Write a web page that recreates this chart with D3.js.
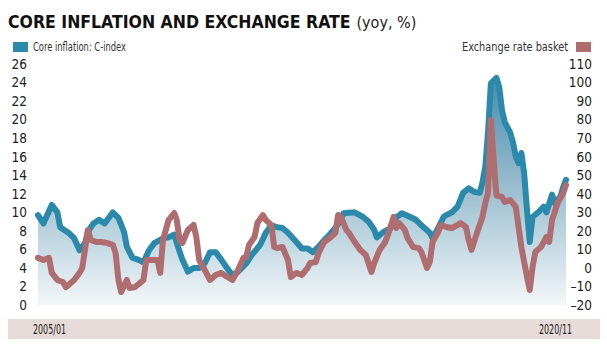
<!DOCTYPE html>
<html>
<head>
<meta charset="utf-8">
<script src="https://cdn.jsdelivr.net/npm/d3@7"></script>
<style>
  body { margin: 0; background: #fff; }
  svg { display: block; }
  text { font-family: "DejaVu Sans Condensed", "Liberation Sans Narrow", sans-serif; }
</style>
</head>
<body>
<script>
// DATA (months counted from 2005/01)
const coreMonths = [0,2,5,7,8,11,13,15,17,18,20,22,24,27,29,31,32,34,36,38,40,42,45,47,49,50,52,54,56,58,60,62,64,66,68,70,72,75,77,80,82,84,86,88,90,93,95,97,99,101,103,105,107,109,110,114,117,119,121,122,124,127,128,131,134,136,138,141,142,144,146,147,149,151,153,155,157,159,160,161,162,163,165,166,167,168,170,171,172,173,174,175,176,177,178,180,182,183,185,186,188,189,190]
const coreValues = [9.7,8.8,10.8,10.0,8.4,7.8,7.2,5.9,6.7,7.9,8.8,9.2,8.8,10.0,9.4,7.9,6.3,5.1,4.9,4.6,5.9,6.7,7.2,7.3,7.6,6.7,4.9,3.6,4.0,4.0,4.5,5.7,5.7,4.9,4.0,3.2,3.6,4.5,5.4,6.5,7.8,8.6,8.4,8.3,7.8,6.8,6.1,6.1,5.7,6.3,7.0,7.6,8.3,9.2,9.9,10.0,9.5,9.0,8.1,7.3,7.8,8.3,9.2,9.9,9.5,9.2,8.6,7.8,7.2,8.3,9.5,9.7,10.0,10.6,12.1,12.6,12.2,12.1,13.2,14.9,18.6,23.9,24.5,23.5,21.0,19.7,18.6,17.5,16.0,15.3,16.4,14.2,10.2,6.8,9.5,10.0,10.6,10.0,11.9,11.0,11.7,12.7,13.5]

const fxMonths = [0,2,4,5,7,9,10,11,13,15,16,18,19,21,23,25,27,28,29,30,32,33,35,38,39,41,43,44,45,47,49,50,51,52,54,56,57,58,60,62,64,66,67,70,72,74,75,76,78,79,81,82,84,85,86,88,90,91,93,95,97,98,100,101,103,105,107,108,109,111,112,114,116,118,120,121,123,125,126,128,129,130,132,133,135,137,138,140,141,142,144,145,147,149,151,152,154,155,156,158,160,161,162,163,164,165,167,168,170,172,173,174,176,177,178,179,181,183,184,185,187,189,190]
const fxValues = [5.4,4.3,5.4,-2.7,-6.5,-7.6,-10.3,-9.2,-6.5,-2.7,0,20.5,15.1,14.0,14.0,13.4,12.4,8.0,-6.5,-13.0,-6.5,-10.8,-10.3,-6.5,4.3,4.3,4.3,-2.7,15.1,25.8,29.6,25.8,15.1,13.4,20.5,23.2,16.7,4.3,-1.1,-6.5,-3.8,-2.7,-3.8,-6.5,-1.1,5.4,5.9,12.4,16.7,24.2,28.5,25.8,23.2,11.3,10.7,11.3,4.3,-4.9,-2.7,-3.8,0,2.7,3.2,8.0,14.0,16.1,18.8,28.5,27.5,20.5,18.8,14.0,9.7,7.0,-2.2,2.7,9.7,14.0,17.8,27.5,21.5,24.2,20.5,16.1,11.3,10.7,8.6,0,3.2,14.0,19.4,23.2,22.1,21.5,23.2,24.2,22.1,15.1,9.7,18.8,27.5,35.0,40.4,79.8,58.2,39.0,38.3,35.6,36.6,32.9,22.1,11.3,-4.9,-11.9,0.5,8.6,11.3,16.7,14.0,25.8,35.0,40.4,44.7]

const leftTicks = [0,2,4,6,8,10,12,14,16,18,20,22,24,26]
const rightTicks = [-20,-10,0,10,20,30,40,50,60,70,80,90,100,110]
const dateLabels = ["2005/01", "2020/11"]

const blue = "#2b8aab"
const red = "#b06d70"

const width = 607, height = 353
const plot = {left: 38, right: 566, top: 64, bottom: 305}

const toDate = m => new Date(2005, m, 1)
const core = coreMonths.map((m, i) => ({date: toDate(m), v: coreValues[i]}))
const fx = fxMonths.map((m, i) => ({date: toDate(m), v: fxValues[i]}))

const svg = d3.select("body").append("svg")
  .attr("width", width)
  .attr("height", height)

//SCALES
const X = d3.scaleTime()
  .domain([toDate(0), toDate(190)])
  .range([plot.left, plot.right])
const YL = d3.scaleLinear().domain([0, 26]).range([plot.bottom, plot.top])
const YR = d3.scaleLinear().domain([-20, 110]).range([plot.bottom, plot.top])

//TITLE
const title = svg.append("text")
  .attr("x", 8).attr("y", 28)
  .attr("fill", "#111")
title.append("tspan")
  .style("font-weight", "bold")
  .style("font-size", "17.5px")
  .text("CORE INFLATION AND EXCHANGE RATE")
title.append("tspan")
  .attr("dx", 6)
  .attr("fill", "#222")
  .style("font-size", "16px")
  .text("(yoy, %)")

//LEGEND
svg.append("rect").attr("x", 13).attr("y", 42).attr("width", 15).attr("height", 10).attr("fill", blue)
svg.append("text").attr("x", 33).attr("y", 51)
  .attr("fill", "#333").style("font-size", "12px")
  .attr("textLength", 93).attr("lengthAdjust", "spacingAndGlyphs")
  .text("Core inflation: C-index")
svg.append("rect").attr("x", 576).attr("y", 42).attr("width", 15).attr("height", 10).attr("fill", red)
svg.append("text").attr("x", 462).attr("y", 51)
  .attr("fill", "#333").style("font-size", "12px")
  .attr("textLength", 106).attr("lengthAdjust", "spacingAndGlyphs")
  .text("Exchange rate basket")

//AXES
const leftAxis = svg.append("g")
  .attr("transform", "translate(27,0)")
  .call(d3.axisLeft(YL).tickValues(leftTicks).tickSize(0).tickPadding(0))
const rightAxis = svg.append("g")
  .attr("transform", "translate(592,0)")
  .call(d3.axisLeft(YR).tickValues(rightTicks).tickSize(0).tickPadding(0)
    .tickFormat(d => d < 0 ? "\u2013" + Math.abs(d) : d))
;[leftAxis, rightAxis].forEach(a => {
  a.select(".domain").remove()
  a.selectAll("text")
    .attr("fill", "#222")
    .style("font-size", "13.5px")
    .style("font-family", "'DejaVu Sans Condensed', sans-serif")
})

//GRADIENT FILL UNDER CORE
const grad = svg.append("defs").append("linearGradient")
  .attr("id", "fill")
  .attr("gradientUnits", "userSpaceOnUse")
  .attr("x1", 0).attr("x2", 0)
  .attr("y1", plot.top).attr("y2", plot.bottom)
grad.append("stop").attr("offset", 0).attr("stop-color", "#3f86a8")
grad.append("stop").attr("offset", 0.45).attr("stop-color", "#8fb6ca")
grad.append("stop").attr("offset", 0.75).attr("stop-color", "#c4d9e3")
grad.append("stop").attr("offset", 1).attr("stop-color", "#f3f7f9")

svg.append("path").datum(core)
  .attr("fill", "url(#fill)")
  .attr("d", d3.area().x(d => X(d.date)).y0(YL(0)).y1(d => YL(d.v)))

//LINES
svg.append("path").datum(core)
  .attr("fill", "none")
  .attr("stroke", blue)
  .attr("stroke-width", 6)
  .attr("stroke-linejoin", "round")
  .attr("stroke-linecap", "round")
  .attr("d", d3.line().x(d => X(d.date)).y(d => YL(d.v)))

svg.append("path").datum(fx)
  .attr("fill", "none")
  .attr("stroke", red)
  .attr("stroke-width", 6)
  .attr("stroke-linejoin", "round")
  .attr("stroke-linecap", "round")
  .attr("d", d3.line().x(d => X(d.date)).y(d => YR(d.v)))

//BOTTOM BAND
svg.append("rect")
  .attr("x", 8).attr("y", 319)
  .attr("width", 592).attr("height", 20)
  .attr("fill", "#e6dbd9")
svg.append("text").attr("x", 33).attr("y", 334)
  .attr("fill", "#222").style("font-size", "14px")
  .attr("textLength", 33).attr("lengthAdjust", "spacingAndGlyphs")
  .text(dateLabels[0])
svg.append("text").attr("x", 539).attr("y", 334)
  .attr("fill", "#222").style("font-size", "14px")
  .attr("textLength", 33).attr("lengthAdjust", "spacingAndGlyphs")
  .text(dateLabels[1])
</script>
</body>
</html>
